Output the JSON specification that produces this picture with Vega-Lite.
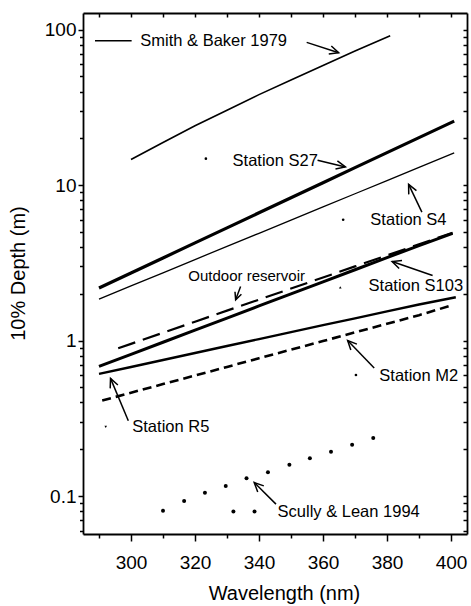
{
  "$schema": "https://vega.github.io/schema/vega-lite/v6.json",
  "width": 384,
  "height": 521,
  "autosize": {"type": "none"},
  "padding": {"left": 83, "top": 13, "right": 4, "bottom": 72},
  "background": "white",
  "config": {"view": {"stroke": null}, "font": "Liberation Sans"},
  "datasets": {
    "curves": [
      {"s": "Smith", "wl": 300, "depth": 14.6}, {"s": "Smith", "wl": 310, "depth": 18.8}, {"s": "Smith", "wl": 320, "depth": 24.1}, {"s": "Smith", "wl": 330, "depth": 30.3}, {"s": "Smith", "wl": 340, "depth": 38.2}, {"s": "Smith", "wl": 350, "depth": 47.5}, {"s": "Smith", "wl": 360, "depth": 58.9}, {"s": "Smith", "wl": 370, "depth": 72.8}, {"s": "Smith", "wl": 381, "depth": 91.4},
      {"s": "SmithKey", "wl": 288.75, "depth": 84.8}, {"s": "SmithKey", "wl": 300.2, "depth": 84.8},
      {"s": "S27", "wl": 290, "depth": 2.18}, {"s": "S27", "wl": 300, "depth": 2.72}, {"s": "S27", "wl": 310, "depth": 3.40}, {"s": "S27", "wl": 320, "depth": 4.25}, {"s": "S27", "wl": 330, "depth": 5.31}, {"s": "S27", "wl": 340, "depth": 6.64}, {"s": "S27", "wl": 350, "depth": 8.29}, {"s": "S27", "wl": 360, "depth": 10.36}, {"s": "S27", "wl": 370, "depth": 12.95}, {"s": "S27", "wl": 380, "depth": 16.18}, {"s": "S27", "wl": 390, "depth": 20.21}, {"s": "S27", "wl": 401, "depth": 25.8},
      {"s": "S4", "wl": 290, "depth": 1.85}, {"s": "S4", "wl": 300, "depth": 2.25}, {"s": "S4", "wl": 310, "depth": 2.73}, {"s": "S4", "wl": 320, "depth": 3.32}, {"s": "S4", "wl": 330, "depth": 4.04}, {"s": "S4", "wl": 340, "depth": 4.90}, {"s": "S4", "wl": 350, "depth": 5.96}, {"s": "S4", "wl": 360, "depth": 7.24}, {"s": "S4", "wl": 370, "depth": 8.80}, {"s": "S4", "wl": 380, "depth": 10.70}, {"s": "S4", "wl": 390, "depth": 13.0}, {"s": "S4", "wl": 401, "depth": 16.1},
      {"s": "S103", "wl": 290, "depth": 0.682}, {"s": "S103", "wl": 300, "depth": 0.816}, {"s": "S103", "wl": 310, "depth": 0.976}, {"s": "S103", "wl": 320, "depth": 1.167}, {"s": "S103", "wl": 330, "depth": 1.396}, {"s": "S103", "wl": 340, "depth": 1.67}, {"s": "S103", "wl": 350, "depth": 1.997}, {"s": "S103", "wl": 360, "depth": 2.388}, {"s": "S103", "wl": 370, "depth": 2.856}, {"s": "S103", "wl": 380, "depth": 3.416}, {"s": "S103", "wl": 390, "depth": 4.085}, {"s": "S103", "wl": 400.5, "depth": 4.9},
      {"s": "Res", "wl": 296, "depth": 0.893}, {"s": "Res", "wl": 300, "depth": 0.953}, {"s": "Res", "wl": 310, "depth": 1.123}, {"s": "Res", "wl": 320, "depth": 1.323}, {"s": "Res", "wl": 330, "depth": 1.558}, {"s": "Res", "wl": 340, "depth": 1.835}, {"s": "Res", "wl": 350, "depth": 2.162}, {"s": "Res", "wl": 360, "depth": 2.546}, {"s": "Res", "wl": 370, "depth": 3.0}, {"s": "Res", "wl": 380, "depth": 3.533}, {"s": "Res", "wl": 390, "depth": 4.162}, {"s": "Res", "wl": 400.5, "depth": 4.94},
      {"s": "R5", "wl": 290, "depth": 0.611}, {"s": "R5", "wl": 300, "depth": 0.676}, {"s": "R5", "wl": 310, "depth": 0.75}, {"s": "R5", "wl": 320, "depth": 0.832}, {"s": "R5", "wl": 330, "depth": 0.923}, {"s": "R5", "wl": 340, "depth": 1.023}, {"s": "R5", "wl": 350, "depth": 1.133}, {"s": "R5", "wl": 360, "depth": 1.256}, {"s": "R5", "wl": 370, "depth": 1.39}, {"s": "R5", "wl": 380, "depth": 1.54}, {"s": "R5", "wl": 390, "depth": 1.706}, {"s": "R5", "wl": 401.5, "depth": 1.9},
      {"s": "M2", "wl": 291, "depth": 0.4115}, {"s": "M2", "wl": 300, "depth": 0.462}, {"s": "M2", "wl": 310, "depth": 0.525}, {"s": "M2", "wl": 320, "depth": 0.596}, {"s": "M2", "wl": 330, "depth": 0.677}, {"s": "M2", "wl": 340, "depth": 0.77}, {"s": "M2", "wl": 350, "depth": 0.874}, {"s": "M2", "wl": 360, "depth": 0.993}, {"s": "M2", "wl": 370, "depth": 1.129}, {"s": "M2", "wl": 380, "depth": 1.282}, {"s": "M2", "wl": 390, "depth": 1.457}, {"s": "M2", "wl": 400, "depth": 1.68}
    ],
    "scully": [
      {"wl": 310, "depth": 0.0803}, {"wl": 316.6, "depth": 0.093}, {"wl": 323.1, "depth": 0.105}, {"wl": 329.6, "depth": 0.116}, {"wl": 336.1, "depth": 0.130}, {"wl": 342.8, "depth": 0.142}, {"wl": 349.5, "depth": 0.159}, {"wl": 355.9, "depth": 0.175}, {"wl": 362.5, "depth": 0.193}, {"wl": 369.1, "depth": 0.214}, {"wl": 375.7, "depth": 0.236},
      {"wl": 332, "depth": 0.0795}, {"wl": 338.6, "depth": 0.0795}
    ],
    "markers": [
      {"k": "dot", "wl": 323.4, "depth": 14.8},
      {"k": "dot", "wl": 366.3, "depth": 5.99},
      {"k": "up", "wl": 365.4, "depth": 2.2},
      {"k": "dot", "wl": 370.3, "depth": 0.601},
      {"k": "down", "wl": 292.1, "depth": 0.279}
    ],
    "labels": [
      {"t": "Smith & Baker 1979", "sz": "big", "wl": 302.9, "depth": 84.8},
      {"t": "Station S27", "sz": "big", "wl": 331.75, "depth": 14.4},
      {"t": "Station S4", "sz": "big", "wl": 374.8, "depth": 6.0},
      {"t": "Station S103", "sz": "big", "wl": 374.25, "depth": 2.23},
      {"t": "Outdoor reservoir", "sz": "small", "wl": 317.9, "depth": 2.62},
      {"t": "Station M2", "sz": "big", "wl": 377.6, "depth": 0.595},
      {"t": "Station R5", "sz": "big", "wl": 300.4, "depth": 0.279},
      {"t": "Scully & Lean 1994", "sz": "big", "wl": 345.8, "depth": 0.0795}
    ],
    "arrows": [
      {"a": "smith-s", "o": 1, "wl": 354.9, "depth": 82.8}, {"a": "smith-s", "o": 2, "wl": 364.9, "depth": 71.0},
      {"a": "smith-h", "o": 1, "wl": 362.6, "depth": 78.5}, {"a": "smith-h", "o": 2, "wl": 364.9, "depth": 71.0}, {"a": "smith-h", "o": 3, "wl": 361.8, "depth": 69.7},
      {"a": "s27-s", "o": 1, "wl": 358.3, "depth": 14.45}, {"a": "s27-s", "o": 2, "wl": 367.0, "depth": 13.09},
      {"a": "s27-h", "o": 1, "wl": 364.5, "depth": 14.34}, {"a": "s27-h", "o": 2, "wl": 367.0, "depth": 13.09}, {"a": "s27-h", "o": 3, "wl": 363.9, "depth": 12.70},
      {"a": "s4-s", "o": 1, "wl": 390.9, "depth": 6.71}, {"a": "s4-s", "o": 2, "wl": 386.75, "depth": 10.12},
      {"a": "s4-h", "o": 1, "wl": 386.8, "depth": 8.72}, {"a": "s4-h", "o": 2, "wl": 386.75, "depth": 10.12}, {"a": "s4-h", "o": 3, "wl": 389.2, "depth": 9.22},
      {"a": "s103-s", "o": 1, "wl": 394.25, "depth": 2.624}, {"a": "s103-s", "o": 2, "wl": 381.6, "depth": 3.228},
      {"a": "s103-h", "o": 1, "wl": 383.8, "depth": 2.912}, {"a": "s103-h", "o": 2, "wl": 381.6, "depth": 3.228}, {"a": "s103-h", "o": 3, "wl": 384.7, "depth": 3.28},
      {"a": "res-s", "o": 1, "wl": 334.25, "depth": 2.228}, {"a": "res-s", "o": 2, "wl": 332.7, "depth": 1.829},
      {"a": "res-h", "o": 1, "wl": 334.5, "depth": 1.988}, {"a": "res-h", "o": 2, "wl": 332.7, "depth": 1.829}, {"a": "res-h", "o": 3, "wl": 332.5, "depth": 2.06},
      {"a": "m2-s", "o": 1, "wl": 376.0, "depth": 0.6667}, {"a": "m2-s", "o": 2, "wl": 367.7, "depth": 1.0},
      {"a": "m2-h", "o": 1, "wl": 368.7, "depth": 0.87}, {"a": "m2-h", "o": 2, "wl": 367.7, "depth": 1.0}, {"a": "m2-h", "o": 3, "wl": 370.6, "depth": 0.9494},
      {"a": "r5-s", "o": 1, "wl": 299.16, "depth": 0.305}, {"a": "r5-s", "o": 2, "wl": 293.6, "depth": 0.5715},
      {"a": "r5-h", "o": 1, "wl": 293.5, "depth": 0.4929}, {"a": "r5-h", "o": 2, "wl": 293.6, "depth": 0.5715}, {"a": "r5-h", "o": 3, "wl": 295.9, "depth": 0.5175},
      {"a": "sc-s", "o": 1, "wl": 345.3, "depth": 0.0887}, {"a": "sc-s", "o": 2, "wl": 338.5, "depth": 0.1222},
      {"a": "sc-h", "o": 1, "wl": 339.6, "depth": 0.1063}, {"a": "sc-h", "o": 2, "wl": 338.5, "depth": 0.1222}, {"a": "sc-h", "o": 3, "wl": 341.5, "depth": 0.1162}
    ]
  },
  "encoding": {
    "x": {"field": "wl", "type": "quantitative", "scale": {"domain": [285, 405], "nice": false, "zero": false}, "axis": null},
    "y": {"field": "depth", "type": "quantitative", "scale": {"type": "log", "domain": [0.057, 128], "nice": false}, "axis": null}
  },
  "layer": [
    {
      "data": {"name": "curves"},
      "transform": [{"filter": "datum.s == 'Smith' || datum.s == 'SmithKey'"}],
      "mark": {"type": "line", "color": "black", "strokeWidth": 1.6},
      "encoding": {
        "x": {"field": "wl", "type": "quantitative", "scale": {"domain": [285, 405], "nice": false, "zero": false},
          "axis": {"orient": "bottom", "values": [290, 300, 310, 320, 330, 340, 350, 360, 370, 380, 390, 400], "format": "d",
            "labelExpr": "datum.value % 20 == 0 ? datum.label : ''",
            "tickSize": {"condition": {"test": "datum.value % 20 == 0", "value": 7}, "value": 4},
            "tickColor": "black", "tickWidth": 1.5, "domainColor": "black", "domainWidth": 1.8,
            "labelFont": "Liberation Sans", "labelFontSize": 19, "labelColor": "black", "labelBaseline": "middle", "labelPadding": 21,
            "labelFlush": false, "labelOverlap": false, "grid": false,
            "title": "Wavelength (nm)", "titleFont": "Liberation Sans", "titleFontSize": 20, "titleFontWeight": "normal", "titleColor": "black",
            "titleX": 201, "titleY": 59, "titleBaseline": "middle", "titleAlign": "center"}},
        "y": {"field": "depth", "type": "quantitative", "scale": {"type": "log", "domain": [0.057, 128], "nice": false},
          "axis": {"orient": "left", "values": [0.06, 0.07, 0.08, 0.09, 0.1, 0.2, 0.3, 0.4, 0.5, 0.6, 0.7, 0.8, 0.9, 1, 2, 3, 4, 5, 6, 7, 8, 9, 10, 20, 30, 40, 50, 60, 70, 80, 90, 100],
            "format": "~g",
            "labelExpr": "(datum.value == 0.1 || datum.value == 1 || datum.value == 10 || datum.value == 100) ? datum.label : ''",
            "tickSize": {"condition": {"test": "datum.value == 0.1 || datum.value == 1 || datum.value == 10 || datum.value == 100", "value": 5}, "value": 3.5},
            "tickColor": "black", "tickWidth": 1.5, "domainColor": "black", "domainWidth": 1.8,
            "labelFont": "Liberation Sans", "labelFontSize": 19, "labelColor": "black", "labelPadding": 2,
            "labelFlush": false, "labelOverlap": false, "grid": false,
            "title": "10% Depth (m)", "titleFont": "Liberation Sans", "titleFontSize": 20, "titleFontWeight": "normal", "titleColor": "black",
            "titleX": -65, "titleY": 260, "titleBaseline": "middle", "titleAlign": "center", "titleAngle": -90}},
        "detail": {"field": "s", "type": "nominal"}
      }
    },
    {
      "data": {"name": "curves"},
      "transform": [{"filter": "datum.s == 'S27'"}],
      "mark": {"type": "line", "color": "black", "strokeWidth": 3.2},
      "encoding": {
        "x": {"field": "wl", "type": "quantitative", "scale": {"domain": [285, 405], "nice": false, "zero": false},
          "axis": {"orient": "top", "values": [290, 300, 310, 320, 330, 340, 350, 360, 370, 380, 390, 400], "labels": false,
            "tickSize": -4, "tickColor": "black", "tickWidth": 1.5, "domainColor": "black", "domainWidth": 1.8, "grid": false, "title": null}},
        "y": {"field": "depth", "type": "quantitative", "scale": {"type": "log", "domain": [0.057, 128], "nice": false},
          "axis": {"orient": "right", "values": [0.06, 0.07, 0.08, 0.09, 0.1, 0.2, 0.3, 0.4, 0.5, 0.6, 0.7, 0.8, 0.9, 1, 2, 3, 4, 5, 6, 7, 8, 9, 10, 20, 30, 40, 50, 60, 70, 80, 90, 100],
            "labels": false, "tickSize": -4, "tickColor": "black", "tickWidth": 1.5, "domainColor": "black", "domainWidth": 1.8, "grid": false, "title": null}}
      }
    },
    {
      "data": {"name": "curves"},
      "transform": [{"filter": "datum.s == 'S4'"}],
      "mark": {"type": "line", "color": "black", "strokeWidth": 1.3}
    },
    {
      "data": {"name": "curves"},
      "transform": [{"filter": "datum.s == 'S103'"}],
      "mark": {"type": "line", "color": "black", "strokeWidth": 3}
    },
    {
      "data": {"name": "curves"},
      "transform": [{"filter": "datum.s == 'Res'"}],
      "mark": {"type": "line", "color": "black", "strokeWidth": 2.2, "strokeDash": [18, 8]}
    },
    {
      "data": {"name": "curves"},
      "transform": [{"filter": "datum.s == 'R5'"}],
      "mark": {"type": "line", "color": "black", "strokeWidth": 2.4}
    },
    {
      "data": {"name": "curves"},
      "transform": [{"filter": "datum.s == 'M2'"}],
      "mark": {"type": "line", "color": "black", "strokeWidth": 2.6, "strokeDash": [9, 5]}
    },
    {
      "data": {"name": "scully"},
      "mark": {"type": "point", "filled": true, "color": "black", "size": 16, "opacity": 1}
    },
    {
      "data": {"name": "markers"},
      "mark": {"type": "point", "filled": true, "color": "black", "size": 7, "opacity": 1},
      "encoding": {
        "shape": {"field": "k", "type": "nominal", "scale": {"domain": ["dot", "up", "down"], "range": ["circle", "triangle-up", "triangle-down"]}, "legend": null}
      }
    },
    {
      "data": {"name": "arrows"},
      "mark": {"type": "line", "color": "black", "strokeWidth": 1.5, "strokeJoin": "miter"},
      "encoding": {
        "detail": {"field": "a", "type": "nominal"},
        "order": {"field": "o", "type": "quantitative"}
      }
    },
    {
      "data": {"name": "labels"},
      "transform": [{"filter": "datum.sz == 'big'"}],
      "mark": {"type": "text", "align": "left", "baseline": "middle", "font": "Liberation Sans", "fontSize": 16.5, "color": "black"},
      "encoding": {"text": {"field": "t", "type": "nominal"}}
    },
    {
      "data": {"name": "labels"},
      "transform": [{"filter": "datum.sz == 'small'"}],
      "mark": {"type": "text", "align": "left", "baseline": "middle", "font": "Liberation Sans", "fontSize": 15, "color": "black"},
      "encoding": {"text": {"field": "t", "type": "nominal"}}
    }
  ],
  "resolve": {"axis": {"x": "independent", "y": "independent"}}
}
